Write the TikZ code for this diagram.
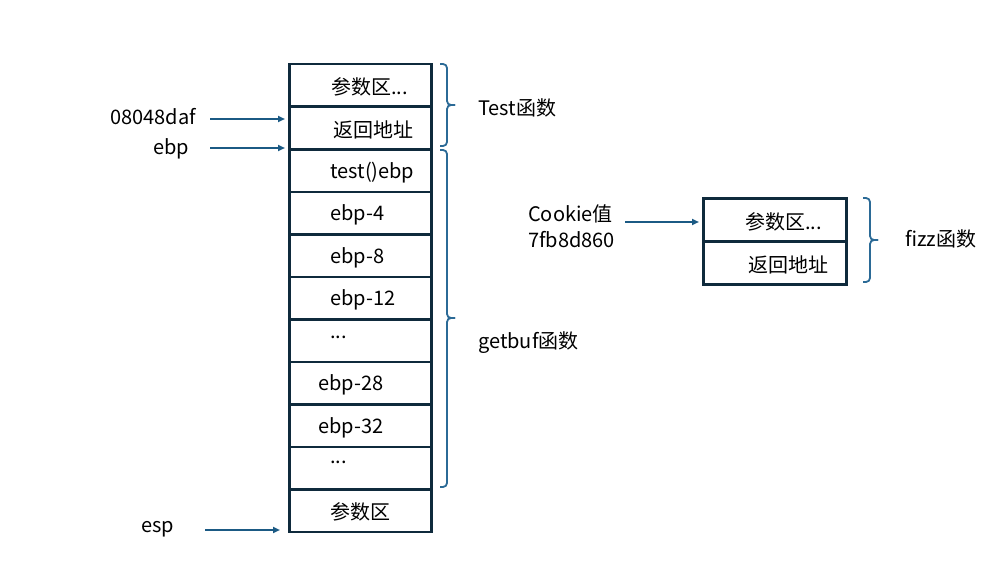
\documentclass[tikz,border=0pt]{standalone}
\usepackage{fontspec}
\setmainfont{Noto Sans CJK SC}
\usetikzlibrary{arrows.meta}
\definecolor{boxc}{HTML}{0F2A3C}
\definecolor{arrc}{HTML}{1B5A84}
\definecolor{brc}{HTML}{2B6A96}
\begin{document}
\begin{tikzpicture}[x=1pt,y=-1pt,
  row/.style={draw=boxc, line width=2.5pt, minimum width=142pt, minimum height=42.5pt, inner sep=0pt, anchor=north west},
  txt/.style={font=\fontsize{20}{23}\selectfont, anchor=west, inner sep=0pt, text=black, yshift=-1.5pt},
  arr/.style={draw=arrc, line width=1.8pt, -{Triangle[length=7pt,width=6pt]}},
  brcl/.style={draw=brc, line width=1.8pt, rounded corners=4pt}]
\useasboundingbox (0,0) rectangle (994,586);
% stack rows
\node[row] (r1) at (288,63) {};
\node[row] (r2) at (288,105.5) {};
\node[row] (r3) at (288,148) {};
\node[row] (r4) at (288,190.5) {};
\node[row] (r5) at (288,233) {};
\node[row] (r6) at (288,275.5) {};
\node[row] (r7) at (288,318) {};
\node[row] (r8) at (288,360.5) {};
\node[row] (r9) at (288,403) {};
\node[row] (r10) at (288,445.5) {};
\node[row] (r11) at (288,488) {};
% row texts
\node[txt] (t1) at (331,85) {参数区...};
\node[txt] (t2) at (333,128) {返回地址};
\node[txt] (t3) at (330,171) {test()ebp};
\node[txt] (t4) at (330,213) {ebp-4};
\node[txt] (t5) at (330,256) {ebp-8};
\node[txt] (t6) at (330,298) {ebp-12};
\node[txt] (t7) at (330,336) {...};
\node[txt] (t8) at (318,383) {ebp-28};
\node[txt] (t9) at (318,426) {ebp-32};
\node[txt] (t10) at (330,461) {...};
\node[txt] (t11) at (330,510) {参数区};
% fizz box
\node[row, minimum width=143pt, minimum height=43pt] (f1) at (702,197) {};
\node[row, minimum width=143pt, minimum height=43pt] (f2) at (702,240) {};
\node[txt] (ft1) at (745,220) {参数区...};
\node[txt] (ft2) at (748,263) {返回地址};
% left labels
\node[txt] (l1) at (110,115) {08048daf};
\node[txt] (l2) at (153,147) {ebp};
\node[txt] (l3) at (141,528) {esp};
\node[txt] (c1) at (528,212) {Cookie值};
\node[txt] (c2) at (528,238) {7fb8d860};
% arrows
\coordinate (a1s) at (210,119); \coordinate (a1e) at (285,119);
\coordinate (a2s) at (210,148); \coordinate (a2e) at (285,148);
\coordinate (a3s) at (205,530); \coordinate (a3e) at (280,530);
\coordinate (a4s) at (625,222); \coordinate (a4e) at (699,222);
\draw[arr] (a1s) -- (a1e);
\draw[arr] (a2s) -- (a2e);
\draw[arr] (a3s) -- (a3e);
\draw[arr] (a4s) -- (a4e);
% braces: ends, bar/middle, tip
\coordinate (b1a) at (440,64); \coordinate (b1b) at (440,146);
\coordinate (b1m) at (447,105); \coordinate (b1t) at (455,105);
\coordinate (b2a) at (440,150); \coordinate (b2b) at (440,487);
\coordinate (b2m) at (447,318); \coordinate (b2t) at (455,318);
\coordinate (b3a) at (863,198); \coordinate (b3b) at (863,282);
\coordinate (b3m) at (870,240); \coordinate (b3t) at (878,240);
\draw[brcl] (b1a) -| (b1m) -- (b1t);
\draw[brcl] (b1b) -| (b1m) -- (b1t);
\draw[brcl] (b2a) -| (b2m) -- (b2t);
\draw[brcl] (b2b) -| (b2m) -- (b2t);
\draw[brcl] (b3a) -| (b3m) -- (b3t);
\draw[brcl] (b3b) -| (b3m) -- (b3t);
% brace labels
\node[txt] (bl1) at (478,106) {Test函数};
\node[txt] (bl2) at (478,341) {getbuf函数};
\node[txt] (bl3) at (905,237) {fizz函数};
\end{tikzpicture}
\end{document}
